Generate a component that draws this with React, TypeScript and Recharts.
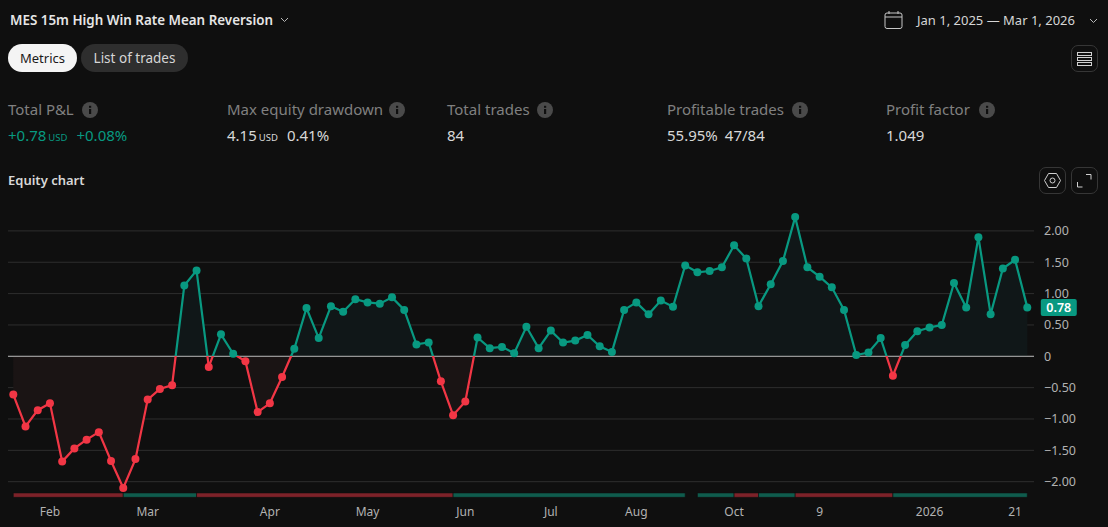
import React from 'react';
import { ComposedChart, Area, Line, XAxis, YAxis, CartesianGrid, ReferenceLine, ReferenceArea, ReferenceDot } from 'recharts';

const equity = [
  -0.61, -1.12, -0.86, -0.75, -1.68, -1.47, -1.33, -1.21, -1.67, -2.1, -1.64, -0.69, -0.52, -0.46,
  1.13, 1.37, -0.17, 0.35, 0.04, -0.08, -0.89, -0.75, -0.33, 0.12, 0.77, 0.29, 0.8, 0.71, 0.91, 0.86,
  0.84, 0.94, 0.74, 0.19, 0.22, -0.4, -0.94, -0.72, 0.3, 0.13, 0.15, 0.05, 0.47, 0.13, 0.41, 0.22,
  0.25, 0.34, 0.16, 0.07, 0.74, 0.86, 0.67, 0.89, 0.79, 1.45, 1.34, 1.36, 1.42, 1.77, 1.56, 0.8,
  1.15, 1.52, 2.22, 1.42, 1.27, 1.1, 0.74, 0.02, 0.06, 0.29, -0.31, 0.18, 0.4, 0.46, 0.5, 1.17,
  0.78, 1.9, 0.67, 1.4, 1.54, 0.78,
];

const xTicks = [3, 11, 21, 29, 37, 44, 51, 59, 66, 75, 82];
const xLabels = ['Feb', 'Mar', 'Apr', 'May', 'Jun', 'Jul', 'Aug', 'Oct', '9', '2026', '21'];
const yTicks = [-2, -1.5, -1, -0.5, 0, 0.5, 1, 1.5, 2];

// start / end trade index of the period strip under the curve
const stripStarts = [0, 9, 15, 36, 56, 59, 61, 64, 72];
const stripEnds = [9, 15, 36, 55, 59, 61, 64, 72, 83];

const chartData = equity.map((value, trade) => ({ trade, value }));

const GREEN = '#089981';
const RED = '#f23645';
const BG = '#0f0f0f';
const FONT = '"Noto Sans", sans-serif';

const maxValue = Math.max(...equity);
const minValue = Math.min(...equity);
const zeroOffset = `${(maxValue / (maxValue - minValue)) * 100}%`;

const formatY = (v: number) => (v === 0 ? '0' : `${v < 0 ? '\u2212' : ''}${Math.abs(v).toFixed(2)}`);

const EquityDot = (props: any) => {
  const { cx, cy, index, payload } = props;
  return <circle key={index} cx={cx} cy={cy} r={4} fill={payload.value < 0 ? RED : GREEN} />;
};

const LastValueBadge = (props: any) => {
  const { cx, cy } = props;
  return (
    <g>
      <rect x={cx + 13.5} y={cy - 8.5} width={36} height={17} rx={2} fill={GREEN} />
      <text x={cx + 31.5} y={cy + 4.5} textAnchor="middle" fill="#ffffff" fontSize={12.5} fontWeight={600} fontFamily={FONT}>
        0.78
      </text>
    </g>
  );
};

const txt = (left: number, top: number, size: number, color: string, weight = 400): React.CSSProperties => ({
  position: 'absolute',
  left,
  top,
  fontSize: size,
  color,
  fontWeight: weight,
  lineHeight: '20px',
  whiteSpace: 'nowrap',
});

const InfoIcon = ({ left }: { left: number }) => (
  <svg style={{ position: 'absolute', left, top: 102 }} width="16" height="16" viewBox="0 0 16 16">
    <circle cx="8" cy="8" r="8" fill="#4a4a4a" />
    <rect x="7" y="7" width="2.2" height="5" fill={BG} />
    <rect x="7" y="3.8" width="2.2" height="2" fill={BG} />
  </svg>
);

const Chevron = ({ left, top }: { left: number; top: number }) => (
  <svg style={{ position: 'absolute', left, top }} width="9" height="6" viewBox="0 0 9 6">
    <path d="M1 1l3.5 3.5L8 1" fill="none" stroke="#b8b8b8" strokeWidth="1" />
  </svg>
);

const IconButton = ({ left, top, children }: { left: number; top: number; children: React.ReactNode }) => (
  <div style={{ position: 'absolute', left, top, width: 27, height: 27, border: '1px solid #363636', borderRadius: 7, boxSizing: 'border-box' }}>
    <svg style={{ position: 'absolute', left: 0, top: 0 }} width="25" height="25" viewBox="0 0 25 25">
      {children}
    </svg>
  </div>
);

const metricLabels = ['Total P&L', 'Max equity drawdown', 'Total trades', 'Profitable trades', 'Profit factor'];
const metricLefts = [8, 227, 447, 667, 886];
const infoLefts = [82, 389, 537, 792, 979];

export default function App() {
  return (
    <div style={{ position: 'absolute', left: 0, top: 0, width: 1108, height: 527, background: BG, fontFamily: FONT, overflow: 'hidden' }}>
      <ComposedChart
        width={1108}
        height={527}
        data={chartData}
        margin={{ top: 200, right: 0, bottom: 0, left: 8 }}
        style={{ position: 'absolute', left: 0, top: 0 }}
      >
        <defs>
          <linearGradient id="equityStroke" x1="0" y1="0" x2="0" y2="1">
            <stop offset={zeroOffset} stopColor={GREEN} />
            <stop offset={zeroOffset} stopColor={RED} />
          </linearGradient>
          <linearGradient id="equityFill" x1="0" y1="0" x2="0" y2="1">
            <stop offset={zeroOffset} stopColor="#101718" />
            <stop offset={zeroOffset} stopColor="#1a1414" />
          </linearGradient>
        </defs>
        <CartesianGrid vertical={false} stroke="#2e2e2e" syncWithTicks />
        <XAxis
          type="number"
          dataKey="trade"
          domain={[-0.434, 83.55]}
          allowDataOverflow
          ticks={xTicks}
          tickFormatter={(v: number) => xLabels[xTicks.indexOf(v)]}
          interval={0}
          axisLine={false}
          tickLine={false}
          tickSize={0}
          tickMargin={2}
          height={22}
          tick={{ fill: '#b2b2b2', fontSize: 12, fontFamily: FONT }}
        />
        <YAxis
          orientation="right"
          type="number"
          domain={[-2.372, 2.493]}
          allowDataOverflow
          ticks={yTicks}
          tickFormatter={formatY}
          interval={0}
          width={74}
          axisLine={false}
          tickLine={false}
          tickSize={0}
          tickMargin={10}
          tick={{ fill: '#b2b2b2', fontSize: 12.5, fontFamily: FONT }}
        />
        <Area
          type="linear"
          dataKey="value"
          baseValue={0}
          stroke="none"
          fill="url(#equityFill)"
          fillOpacity={1}
          isAnimationActive={false}
          activeDot={false}
        />
        <ReferenceLine y={0} stroke="#b5b5b5" strokeWidth={1} />
        {stripStarts.map((start, i) => (
          <ReferenceArea
            key={start}
            x1={start}
            x2={stripEnds[i]}
            y1={-2.25}
            y2={-2.18}
            fill={equity[stripEnds[i]] >= equity[start] ? '#0f5c4d' : '#7d2229'}
            fillOpacity={1}
            stroke={BG}
            strokeWidth={0.6}
          />
        ))}
        <Line
          type="linear"
          dataKey="value"
          stroke="url(#equityStroke)"
          strokeWidth={2.2}
          dot={EquityDot}
          activeDot={false}
          isAnimationActive={false}
        />
        <ReferenceDot x={83} y={equity[83]} ifOverflow="visible" shape={LastValueBadge} />
      </ComposedChart>

      <div style={txt(10, 10, 13.4, '#e6e6e6', 600)}>MES 15m High Win Rate Mean Reversion</div>
      <Chevron left={280} top={17} />
      <svg style={{ position: 'absolute', left: 884, top: 10 }} width="19" height="20" viewBox="0 0 19 20">
        <rect x="1" y="3" width="17" height="15.5" rx="2" fill="none" stroke="#c8c8c8" strokeWidth="1" />
        <path d="M1 7h17M5 1v3M14 1v3" stroke="#c8c8c8" strokeWidth="1" />
      </svg>
      <div style={txt(917, 10, 13, '#d6d6d6')}>Jan 1, 2025 — Mar 1, 2026</div>
      <Chevron left={1089} top={18} />

      <div style={{ ...txt(8, 44, 13, '#1a1a1a'), width: 69, height: 28, lineHeight: '28px', textAlign: 'center', background: '#f4f4f4', borderRadius: 14 }}>Metrics</div>
      <div style={{ ...txt(81, 44, 13.5, '#d6d6d6'), width: 107, height: 28, lineHeight: '28px', textAlign: 'center', background: '#2e2e2e', borderRadius: 14 }}>List of trades</div>
      <IconButton left={1071} top={45}>
        <g fill="none" stroke="#d0d0d0" strokeWidth="1">
          <rect x="5.5" y="6.5" width="14" height="3" />
          <rect x="5.5" y="11.5" width="14" height="3" />
          <rect x="5.5" y="16.5" width="14" height="3" />
        </g>
      </IconButton>

      {metricLabels.map((label, i) => (
        <div key={label} style={txt(metricLefts[i], 99, 15, '#808080')}>{label}</div>
      ))}
      {infoLefts.map(left => <InfoIcon key={left} left={left} />)}

      <div style={txt(8, 125, 15, GREEN)}>
        +0.78<span style={{ fontSize: 9.5, marginLeft: 2 }}>USD</span><span style={{ marginLeft: 9 }}>+0.08%</span>
      </div>
      <div style={txt(227, 125, 15, '#d8d8d8')}>
        4.15<span style={{ fontSize: 9.5, marginLeft: 2 }}>USD</span><span style={{ marginLeft: 9 }}>0.41%</span>
      </div>
      <div style={txt(447, 125, 15, '#d8d8d8')}>84</div>
      <div style={txt(667, 125, 15, '#d8d8d8')}>55.95%<span style={{ marginLeft: 7 }}>47/84</span></div>
      <div style={txt(886, 125, 15, '#d8d8d8')}>1.049</div>

      <div style={txt(8, 170, 13, '#d8d8d8', 600)}>Equity chart</div>
      <IconButton left={1039} top={167}>
        <g fill="none" stroke="#d0d0d0" strokeWidth="1">
          <path d="M8.5 5.5h8l4 7-4 7h-8l-4-7z" />
          <circle cx="12.5" cy="12.5" r="2.5" />
        </g>
      </IconButton>
      <IconButton left={1071} top={167}>
        <path d="M14 6.5h5v5M5.5 14v5h5" fill="none" stroke="#d0d0d0" strokeWidth="1" />
      </IconButton>
    </div>
  );
}
